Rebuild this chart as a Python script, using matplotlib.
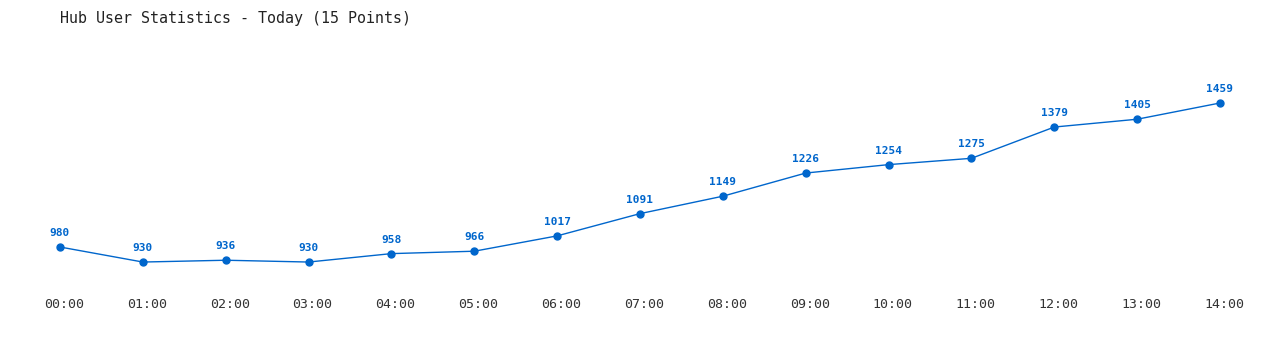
import matplotlib
matplotlib.use("Agg")
import matplotlib.pyplot as plt
import matplotlib.transforms as mtransforms

# Hourly hub user counts for today
hours = ["00:00", "01:00", "02:00", "03:00", "04:00", "05:00", "06:00", "07:00",
         "08:00", "09:00", "10:00", "11:00", "12:00", "13:00", "14:00"]
users = [980, 930, 936, 930, 958, 966, 1017, 1091, 1149, 1226, 1254, 1275, 1379, 1405, 1459]

line_color = "#0066cc"
plt.rcParams['font.family'] = ['DejaVu Sans Mono']

fig = plt.figure(figsize=(12.8, 3.5), dpi=100)
ax = fig.add_axes([60 / 1280, 60 / 350, 1160 / 1280, 230 / 350])

x = list(range(len(hours)))
ax.plot(x, users, color=line_color, linewidth=1, marker="o", markersize=5, clip_on=False)

# value labels above each point
for xi, v in zip(x, users):
    ax.annotate(str(v), (xi, v), xytext=(0, 6.5), textcoords="offset points",
                ha="center", va="bottom", fontsize=8, fontweight="bold", color=line_color)

ax.set_xlim(0, 14)
ax.set_ylim(837, 1602)
ax.set_xticks(x)
ax.set_xticklabels(hours, fontsize=9.5, color="#333333")
ax.tick_params(axis="x", length=0, pad=6)
# labels sit a few pixels right of the points in the original
shift = mtransforms.ScaledTranslation(4 / 100, 0, fig.dpi_scale_trans)
for lbl in ax.get_xticklabels():
    lbl.set_transform(lbl.get_transform() + shift)
ax.set_yticks([])
for s in ax.spines.values():
    s.set_visible(False)

fig.text(60 / 1280, 1 - 18 / 350, "Hub User Statistics - Today (15 Points)",
         fontsize=10.8, color="#222222", va="center", ha="left")

plt.savefig("out.png", dpi=100)
